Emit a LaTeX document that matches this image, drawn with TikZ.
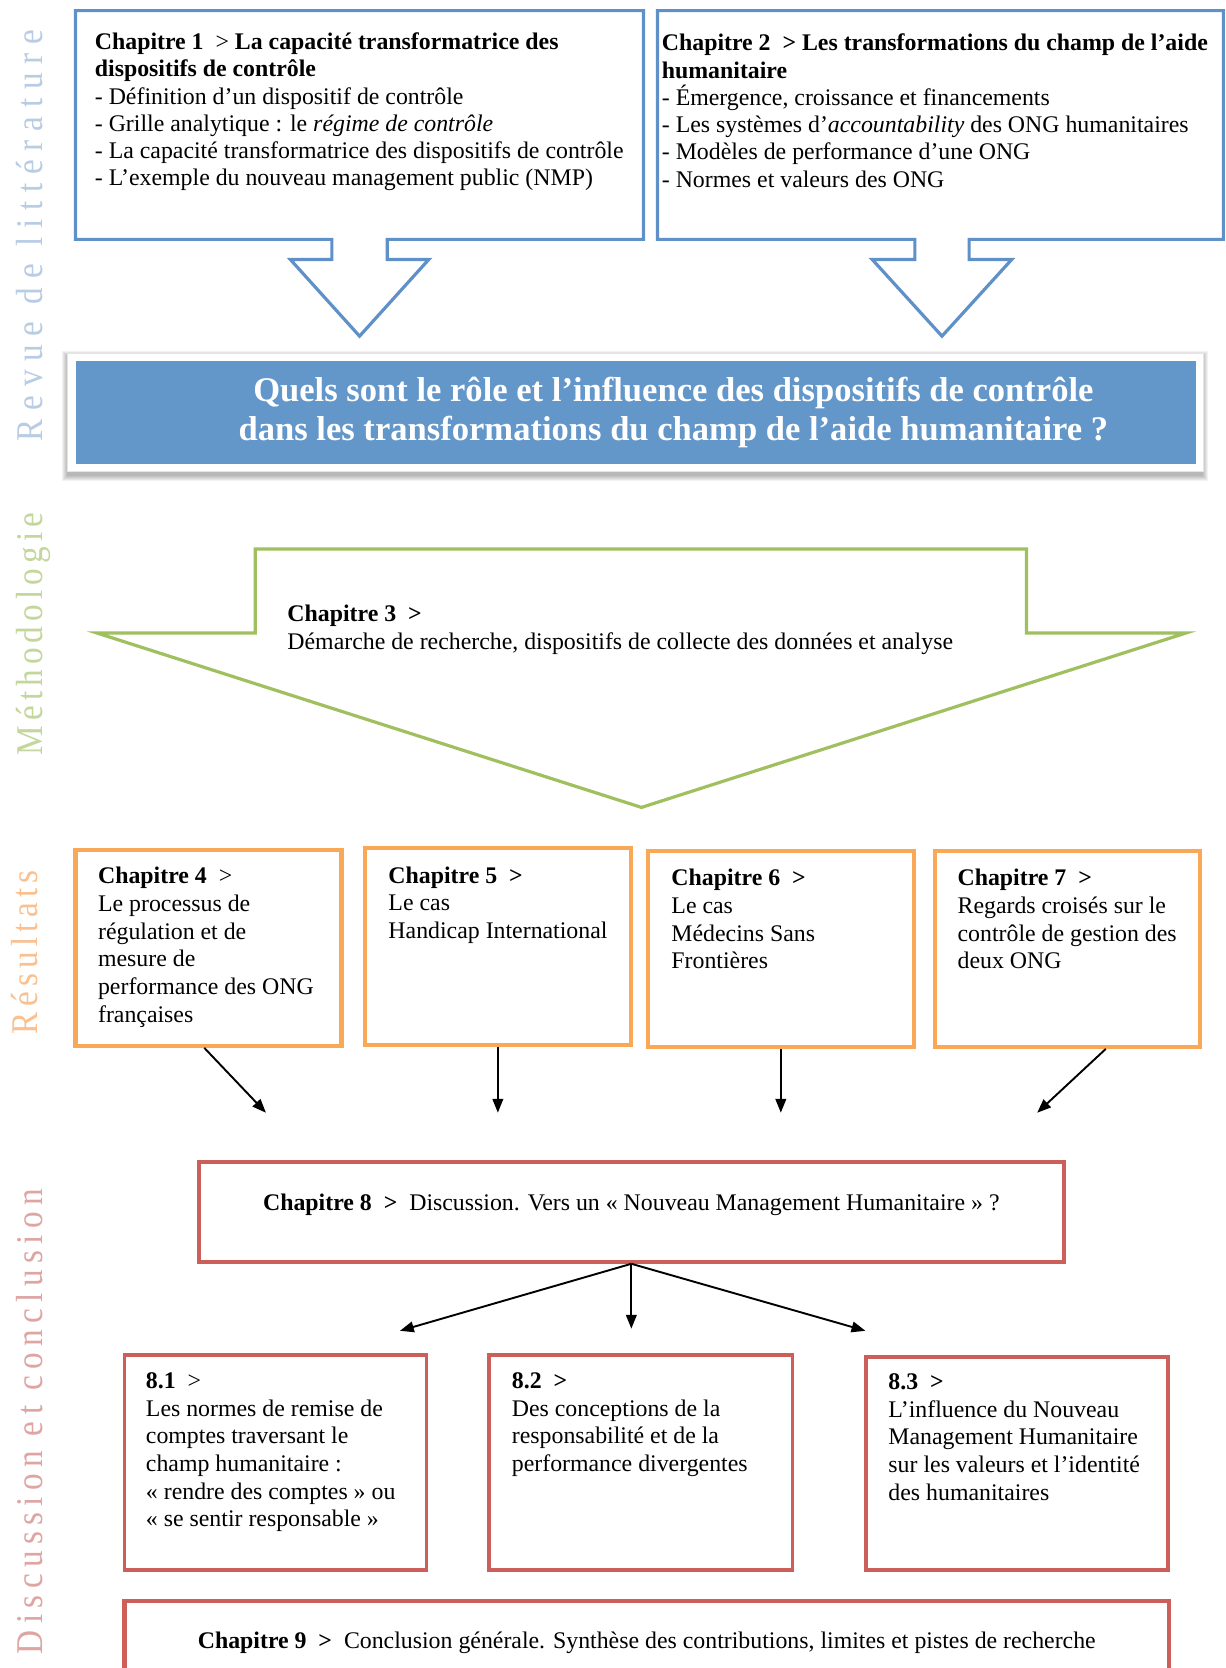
\documentclass[tikz,border=0pt]{standalone}
\usepackage{fontspec}
\setmainfont{Liberation Serif}
\newfontfamily\lblA[FakeStretch=0.88,LetterSpace=23.3]{Liberation Serif}
\newfontfamily\lblB[FakeStretch=0.88,LetterSpace=13.5]{Liberation Serif}
\newfontfamily\lblC[FakeStretch=0.88,LetterSpace=13.9]{Liberation Serif}
\newfontfamily\lblD[FakeStretch=0.88,LetterSpace=17]{Liberation Serif}
\usetikzlibrary{arrows.meta}
\definecolor{cblue}{RGB}{95,145,200}
\definecolor{cqfill}{RGB}{99,150,201}
\definecolor{cgreen}{RGB}{160,192,95}
\definecolor{corange}{RGB}{249,168,88}
\definecolor{cred}{RGB}{205,95,90}
\definecolor{lblblue}{RGB}{184,204,228}
\definecolor{lblgreen}{RGB}{195,214,155}
\definecolor{lblorange}{RGB}{250,192,144}
\definecolor{lblred}{RGB}{222,165,163}
\newcommand\fsz{\fontsize{22.4}{25.6}\selectfont}
\newcommand\fszr{\fontsize{22.4}{26}\selectfont}
\newcommand\fszc{\fontsize{22.4}{26.5}\selectfont}
\newcommand\lsz{\fontsize{35.5}{40}\selectfont}
\newcommand\fl{\rule{0pt}{18pt}}
\begin{document}
\begin{tikzpicture}[x=1pt,y=-1pt,
  txt/.style={anchor=north west, inner sep=0pt, align=left, font=\fsz},
  txtr/.style={anchor=north west, inner sep=0pt, align=left, font=\fszr},
  lbl/.style={rotate=90, anchor=base, inner sep=0pt},
  bluebox/.style={draw=cblue, line width=3pt, line join=miter},
  greenbox/.style={draw=cgreen, line width=3pt, line join=miter},
  obox/.style={draw=corange, line width=4pt, inner sep=0pt},
  rbox/.style={draw=cred, line width=3.6pt, inner sep=0pt},
  arr/.style={draw=black, line width=1.8pt, -{Triangle[length=13pt,width=10pt]}},
]
\useasboundingbox (0,0) rectangle (1152,1568);
\clip (0,0) rectangle (1152,1568);
\fill[white] (0,0) rectangle (1152,1568);

% side labels
\node[lbl, text=lblblue, font=\lblA\lsz] (L1) at (40,221.5) {Revue de littérature};
\node[lbl, text=lblgreen, font=\lblB\lsz] (L2) at (40,596) {Méthodologie};
\node[lbl, text=lblorange, font=\lblC\lsz] (L3) at (35,895) {Résultats};
\node[lbl, text=lblred, font=\lblD\lsz] (L4) at (40,1336.5) {Discussion et conclusion};

% chapter 1 and 2 block arrows
\draw[bluebox] (312,225) -- (71,225) -- (71,10) -- (605,10) -- (605,225) -- (364,225)
  -- (364,244) -- (403,244) -- (338,316) -- (273,244) -- (312,244) -- cycle;
\draw[bluebox] (860,225) -- (618,225) -- (618,10) -- (1150,10) -- (1150,225) -- (911,225)
  -- (911,244) -- (951,244) -- (885.5,316) -- (820,244) -- (860,244) -- cycle;

\node[txt] (t1) at (89,28.4) {\fl\textbf{Chapitre 1}~~> \textbf{La capacité transformatrice des}\\
\textbf{dispositifs de contrôle}\\
- Définition d’un dispositif de contrôle\\
- Grille analytique : le \textit{régime de contrôle}\\
- La capacité transformatrice des dispositifs de contrôle\\
- L’exemple du nouveau management public (NMP)};

\node[txt] (t2) at (622,29.6) {\fl\textbf{Chapitre 2~~> Les transformations du champ de l’aide}\\
\textbf{humanitaire}\\
- Émergence, croissance et financements\\
- Les systèmes d’\textit{accountability} des ONG humanitaires\\
- Modèles de performance d’une ONG\\
- Normes et valeurs des ONG};

% question box
\foreach \r in {0,1,...,5}{\fill[black,opacity=0.05] ({63-\r},{335-\r}) rectangle ({1131+\r},{447+\r});}
\fill[white] (63,332) rectangle (1131,443);
\draw[black!10, line width=0.6pt] (63,332) rectangle (1131,443);
\node[fill=cqfill, minimum width=1053, minimum height=97, inner sep=0pt, outer sep=0pt] (q) at (597.5,387.5) {};
\node[anchor=north, inner sep=0pt, align=center, text=white, font=\fontsize{32.5}{36.2}\selectfont\bfseries] (qt) at (633,351.4)
  {\rule{0pt}{26pt}Quels sont le rôle et l’influence des dispositifs de contrôle\\ dans les transformations du champ de l’aide humanitaire ?};

% chapter 3 arrow
\draw[greenbox] (240,516) -- (965,516) -- (965,595) -- (1115,595) -- (603,759) -- (91,595) -- (240,595) -- cycle;
\node[anchor=north west, inner sep=0pt, align=left, font=\fszc] (t3) at (270,566)
  {\fl\textbf{Chapitre 3~~>}\\ Démarche de recherche, dispositifs de collecte des données et analyse};

% results boxes
\node[obox, minimum width=250, minimum height=184] (b4) at (196,891) {};
\node[obox, minimum width=250, minimum height=185] (b5) at (468,889.5) {};
\node[obox, minimum width=250, minimum height=184] (b6) at (734,892) {};
\node[obox, minimum width=249, minimum height=184] (b7) at (1003.5,892) {};

\node[txtr] (t4) at (92,812.7) {\fl\textbf{Chapitre 4}~~>\\ Le processus de\\ régulation et de\\ mesure de\\ performance des ONG\\ françaises};
\node[txtr] (t5) at (365,812) {\fl\textbf{Chapitre 5~~>}\\ Le cas\\ Handicap International};
\node[txtr] (t6) at (631,814.6) {\fl\textbf{Chapitre 6~~>}\\ Le cas\\ Médecins Sans\\ Frontières};
\node[txtr] (t7) at (900,814.6) {\fl\textbf{Chapitre 7~~>}\\ Regards croisés sur le\\ contrôle de gestion des\\ deux ONG};

\coordinate (e4) at (250,1046);
\coordinate (e5) at (468,1046);
\coordinate (e6) at (734,1046);
\coordinate (e7) at (975,1046);
\draw[arr] ([xshift=-4pt]b4.south) -- (e4);
\draw[arr] (b5.south) -- (e5);
\draw[arr] (b6.south) -- (e6);
\draw[arr] ([xshift=36pt]b7.south) -- (e7);

% chapter 8
\node[rbox, line width=4pt, minimum width=813, minimum height=94] (c8) at (593.5,1139) {};
\node[anchor=base, inner sep=0pt, font=\fsz] (t8) at (593.5,1138)
  {\textbf{Chapitre 8~~>}~~Discussion. Vers un «~Nouveau Management Humanitaire~» ?};

\coordinate (f1) at (376,1251);
\coordinate (f2) at (593.5,1249);
\coordinate (f3) at (813.5,1251);
\draw[arr] (c8.south) -- (f1);
\draw[arr] (c8.south) -- (f2);
\draw[arr] (c8.south) -- (f3);

\node[rbox, minimum width=284, minimum height=202] (s1) at (259,1375) {};
\node[rbox, minimum width=285, minimum height=202] (s2) at (602.5,1375) {};
\node[rbox, minimum width=284, minimum height=200] (s3) at (956,1376) {};

\node[txtr] (u1) at (137,1287) {\fl\textbf{8.1}~~>\\ Les normes de remise de\\ comptes traversant le\\ champ humanitaire :\\ «~rendre des comptes~» ou\\ «~se sentir responsable~»};
\node[txtr] (u2) at (481,1287) {\fl\textbf{8.2~~>}\\ Des conceptions de la\\ responsabilité et de la\\ performance divergentes};
\node[txtr] (u3) at (835,1288) {\fl\textbf{8.3~~>}\\ L’influence du Nouveau\\ Management Humanitaire\\ sur les valeurs et l’identité\\ des humanitaires};

% chapter 9
\draw[draw=cred, line width=4pt] (117,1590) -- (117,1505) -- (1099,1505) -- (1099,1590);
\node[anchor=base, inner sep=0pt, font=\fsz] (t9) at (608,1550)
  {\textbf{Chapitre 9~~>}~~Conclusion générale. Synthèse des contributions, limites et pistes de recherche};
\end{tikzpicture}
\end{document}
